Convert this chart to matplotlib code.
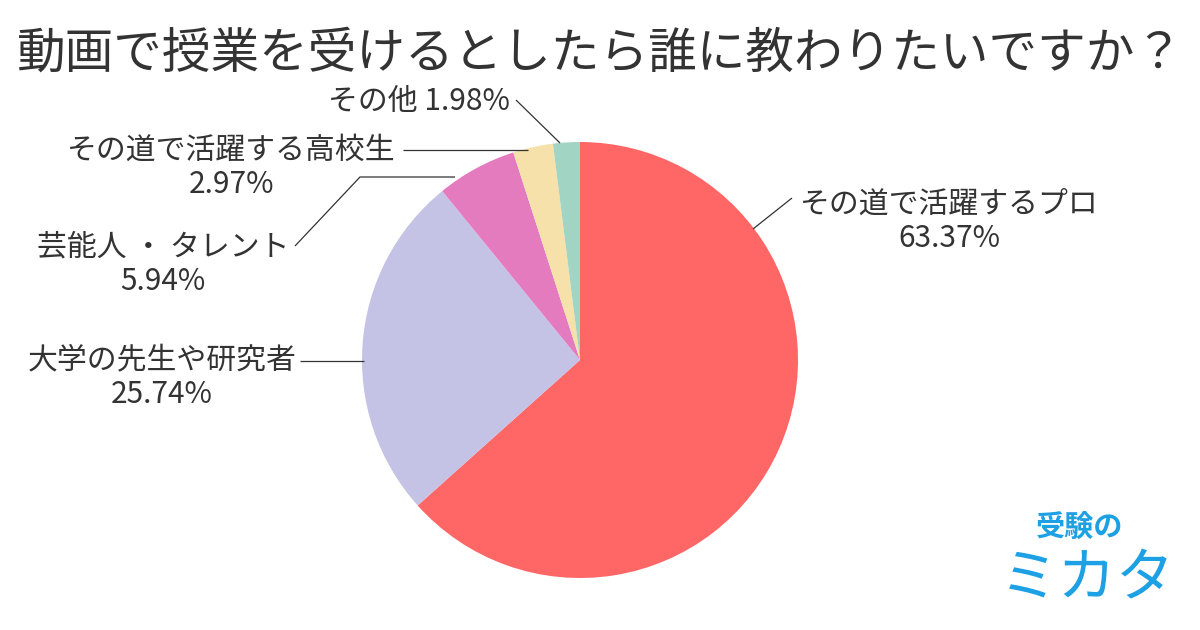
import matplotlib
matplotlib.use("Agg")
import matplotlib.pyplot as plt

plt.rcParams['font.family'] = ['Noto Sans CJK JP', 'DejaVu Sans']

title = "動画で授業を受けるとしたら誰に教わりたいですか？"
categories = ["その道で活躍するプロ", "大学の先生や研究者", "芸能人 ・ タレント",
              "その道で活躍する高校生", "その他"]
values = [63.37, 25.74, 5.94, 2.97, 1.98]
colors = ["#FF6666", "#C4C3E6", "#E57BBF", "#F5E1A9", "#A2D4C4"]

W, H = 1200, 630
fig = plt.figure(figsize=(12, 6.3), dpi=100)
ax = fig.add_axes([0, 0, 1, 1])

def Y(y):
    return H - y

cx, cy, r = 580, 360, 218
ax.pie(values, colors=colors, startangle=90, counterclock=False,
       center=(cx, Y(cy)), radius=r, frame=False,
       wedgeprops=dict(linewidth=0))
ax.set_xlim(0, W)
ax.set_ylim(0, H)
ax.set_aspect('auto')
ax.axis('off')

tc = "#333333"
lc = "#333333"
fs = 21.5

fig.text(0.5, Y(54) / H, title, ha='center', va='center', fontsize=35, color=tc)

def label(x, y, text, ha='center'):
    ax.text(x, Y(y), text, ha=ha, va='center', fontsize=fs, color=tc, linespacing=1.15)

def line(pts):
    xs = [p[0] for p in pts]
    ys = [Y(p[1]) for p in pts]
    ax.plot(xs, ys, color=lc, lw=0.9, solid_capstyle='butt')

# プロ
label(949, 221, f"{categories[0]}\n{values[0]:.2f}%")
line([(753, 229), (792, 198)])
# 大学
label(162, 377, f"{categories[1]}\n{values[1]:.2f}%")
line([(300, 361), (364, 361)])
# 芸能
label(163, 264, f"{categories[2]}\n{values[2]:.2f}%")
line([(295, 246), (360, 177), (455, 177)])
# 高校生
label(231, 167, f"{categories[3]}\n{values[3]:.2f}%")
line([(403, 150), (528, 150)])
# その他
ax.text(510, Y(102), f"{categories[4]} {values[4]:.2f}%", ha='right', va='center',
        fontsize=fs, color=tc)
line([(516, 100), (560, 143)])

# logo
blue = "#1DA1E4"
ax.text(1080, Y(527), "受験の", ha='center', va='center', fontsize=21,
        color=blue, fontweight='bold')
ax.text(1087, Y(580), "ミカタ", ha='center', va='center', fontsize=42,
        color=blue, fontstyle='italic')

fig.savefig("out.png", dpi=100, facecolor='white')
